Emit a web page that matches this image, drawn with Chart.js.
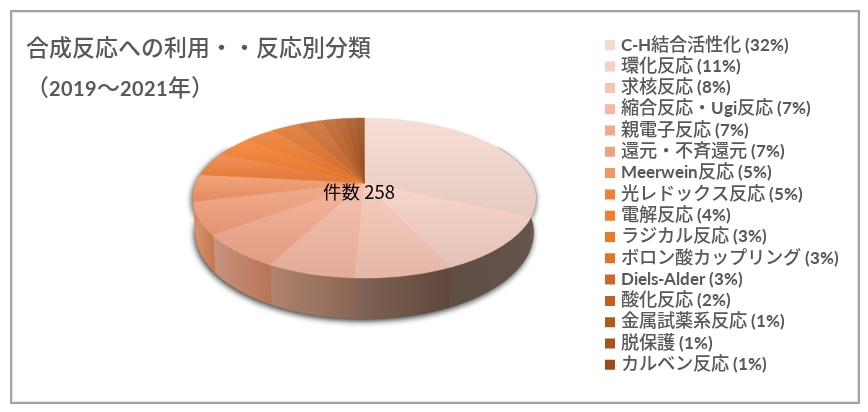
<!DOCTYPE html>
<html lang="ja">
<head>
<meta charset="utf-8">
<script src="https://cdn.jsdelivr.net/npm/chart.js@4"></script>
<style>
@font-face { font-family: LatinBold; src: local("Lato Bold"), local("Lato-Bold"); unicode-range: U+0020-007E; size-adjust: 145%; }
@font-face { font-family: LatinTitle; src: local("Lato Bold"), local("Lato-Bold"); unicode-range: U+0020-007E; size-adjust: 133%; }
@font-face { font-family: JaWide; src: local("Noto Sans CJK JP Medium"), local("NotoSansCJKjp-Medium"), local("Noto Sans CJK JP"); size-adjust: 152%; }
html, body { margin: 0; background: #fff; }
#wrap { position: relative; width: 868px; height: 412px; overflow: hidden; }
#frame { position: absolute; left: 10px; top: 10px; width: 846px; height: 390px; border: 2px solid #a3a3a3; box-shadow: inset 0 0 0 1px #e4e4e4; }
#myChart { position: absolute; left: 0; top: 0; }
.title { position: absolute; left: 26px; color: #595959; font-family: LatinTitle, JaWide; font-size: 15.1px; white-space: nowrap; }
</style>
</head>
<body>
<div id="wrap">
  <div id="frame"></div>
  <canvas id="myChart" width="868" height="412"></canvas>
  <div class="title" style="top:29px">合成反応への利用・・反応別分類</div>
  <div class="title" style="top:69px">（2019～2021年）</div>
</div>
<script>
const names = ["C-H結合活性化","環化反応","求核反応","縮合反応・Ugi反応","親電子反応","還元・不斉還元","Meerwein反応","光レドックス反応","電解反応","ラジカル反応","ボロン酸カップリング","Diels-Alder","酸化反応","金属試薬系反応","脱保護","カルベン反応"];
const percents = [32,11,8,7,7,7,5,5,4,3,3,3,2,1,1,1];
const counts = [82,29,20,18,18,17,14,12,11,9,8,7,4,3,3,3];
const colors = ["#f6d9d0","#f6d0c4","#f5c5b4","#f4b8a3","#f3a98d","#f29f7c","#f29566","#f07f3c","#f47d2b","#ed7a2c","#e0722a","#cc6a2e","#bf5f22","#b5581d","#a8511b","#9c4c18"];
const wallLeft = ["#5f4e45","#5f4e45","#826457","#b08470","#c79480","#dc9470","#dc9470","#dc9470","#dc9470","#dc9470","#dc9470","#dc9470","#dc9470","#dc9470","#dc9470","#dc9470"];
const wallRight = ["#6b5a50","#64534a","#5f473c","#8a6655","#b87558","#c57a50","#c57a50","#c57a50","#c57a50","#c57a50","#c57a50","#c57a50","#c57a50","#c57a50","#c57a50","#c57a50"];
const centerLabel = "件数";

// perspective of the tilted disc
const pie = { x: 364.5, y: 183, a: 168.5, b: 77.2, k: 0.1875, depth: 33.3, shrink: 0.985 };

function rim(t) {
  let u = Math.sin(t), v = -Math.cos(t), w = 1 - pie.k * v;
  return { x: pie.x + pie.a * u / w, y: pie.y + pie.b * v / w, w: w };
}
function under(t) {
  let p = rim(t);
  return { x: pie.x + (p.x - pie.x) * pie.shrink, y: p.y + pie.depth / p.w };
}
function mix(hex, target, f) {
  let n = parseInt(hex.slice(1), 16);
  let c = [n >> 16, (n >> 8) & 255, n & 255].map(v => Math.round(v + (target - v) * f));
  return `rgb(${c[0]},${c[1]},${c[2]})`;
}
function angles(start, end) {
  let list = [], n = Math.max(2, Math.ceil((end - start) / 0.02));
  for (let i = 0; i <= n; i++) list.push(start + (end - start) * i / n);
  return list;
}

const pie3d = {
  id: "pie3d",
  beforeDatasetDraw(chart, args) {
    let ctx = chart.ctx;
    let arcs = args.meta.data.map(e => ({ s: e.startAngle + Math.PI / 2, e: e.endAngle + Math.PI / 2 }));
    let from = Math.PI / 3, to = Math.PI * 5 / 3;

    // shadow under the side wall
    ctx.save();
    ctx.shadowColor = "rgba(35,45,45,1)";
    ctx.shadowBlur = 6;
    ctx.shadowOffsetY = 2;
    ctx.shadowOffsetX = -1;
    ctx.fillStyle = "#5f4e45";
    ctx.beginPath();
    angles(from, to).forEach(t => { let p = under(t); ctx.lineTo(p.x, p.y); });
    angles(from, to).reverse().forEach(t => { let p = rim(t); ctx.lineTo(p.x, p.y); });
    ctx.closePath();
    ctx.fill();
    ctx.restore();

    // side wall
    arcs.forEach((a, i) => {
      let s = Math.max(a.s, from), e = Math.min(a.e, to);
      if (e <= s) return;
      let pts = angles(s, e);
      let xs = pts.map(t => rim(t).x);
      let g = ctx.createLinearGradient(Math.min(...xs), 0, Math.max(...xs), 0);
      g.addColorStop(0, wallLeft[i]);
      g.addColorStop(1, wallRight[i]);
      ctx.fillStyle = g;
      ctx.strokeStyle = g;
      ctx.lineWidth = 0.5;
      ctx.beginPath();
      pts.forEach(t => { let p = rim(t); ctx.lineTo(p.x, p.y); });
      pts.slice().reverse().forEach(t => { let p = under(t); ctx.lineTo(p.x, p.y); });
      ctx.closePath();
      ctx.fill();
      ctx.stroke();
    });

    // top face
    arcs.forEach((a, i) => {
      let pts = angles(a.s, a.e).map(rim);
      let ys = pts.map(p => p.y).concat(pie.y);
      let g = ctx.createLinearGradient(0, Math.min(...ys), 0, Math.max(...ys));
      g.addColorStop(0, mix(colors[i], 255, 0.14));
      g.addColorStop(1, mix(colors[i], 0, 0.07));
      ctx.fillStyle = g;
      ctx.strokeStyle = g;
      ctx.lineWidth = 0.5;
      ctx.beginPath();
      ctx.moveTo(pie.x, pie.y);
      pts.forEach(p => ctx.lineTo(p.x, p.y));
      ctx.closePath();
      ctx.fill();
      ctx.stroke();
    });

    ctx.save();
    ctx.fillStyle = "#000";
    ctx.font = '18.5px "Noto Sans CJK JP"';
    ctx.textAlign = "center";
    ctx.textBaseline = "middle";
    ctx.fillText(centerLabel + " " + counts.reduce((x, y) => x + y, 0), 359, 192);
    ctx.restore();
    return false;
  }
};

let chart = new Chart("myChart", {
  type: "pie",
  data: {
    labels: names.map((n, i) => `${n} (${percents[i]}%)`),
    datasets: [{ data: counts, backgroundColor: colors, borderWidth: 0 }]
  },
  options: {
    responsive: false,
    animation: false,
    layout: { padding: { top: 30, right: 19 } },
    plugins: {
      tooltip: { enabled: false },
      legend: {
        position: "right",
        align: "start",
        labels: {
          boxWidth: 10,
          boxHeight: 10,
          padding: 9.3,
          color: "#595959",
          font: { family: "LatinBold, JaWide", size: 12 }
        }
      }
    }
  },
  plugins: [pie3d]
});

document.fonts.load("12px LatinBold", "C").then(() => document.fonts.load("12px JaWide", "合")).then(() => document.fonts.load("12px LatinTitle", "2")).then(() => chart.update());
</script>
</body>
</html>
